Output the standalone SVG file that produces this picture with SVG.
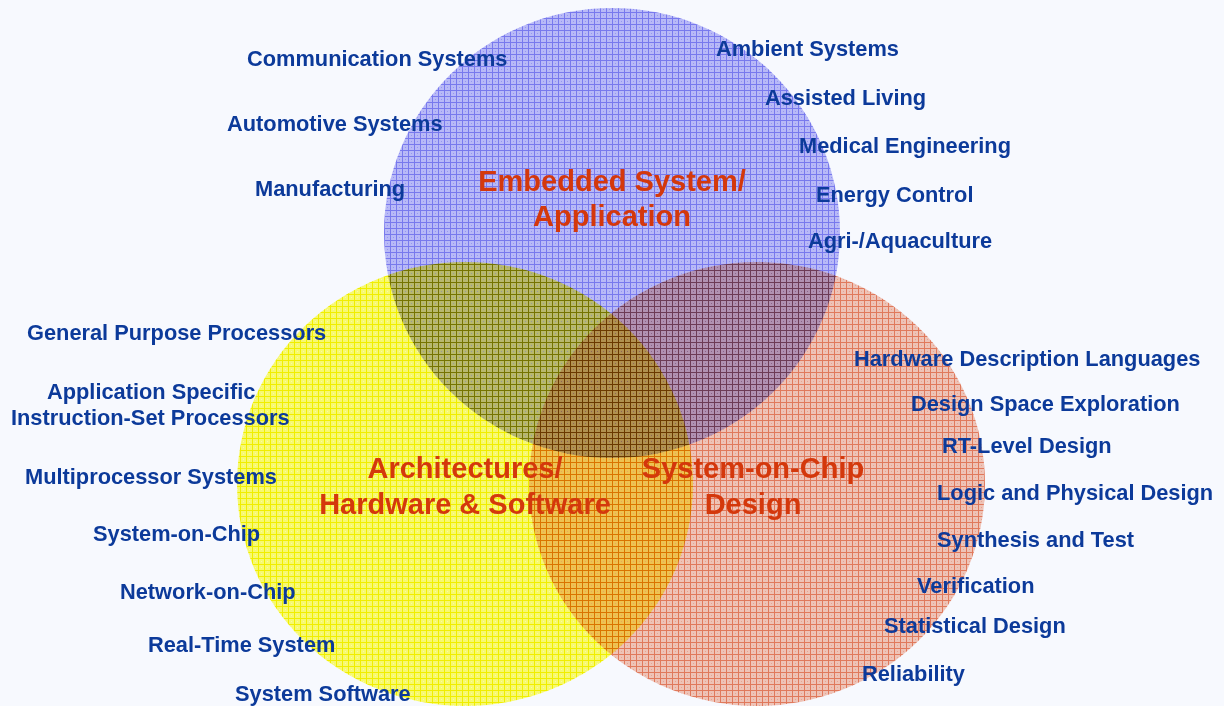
<svg xmlns="http://www.w3.org/2000/svg" width="1224" height="706" viewBox="0 0 1224 706">
<defs>
<pattern id="pBlue" width="6" height="6" patternUnits="userSpaceOnUse">
<rect width="6" height="6" fill="#bebef8"/>
<rect width="6" height="1" fill="#7c7cee"/>
<rect width="1" height="6" fill="#7c7cee"/>
<rect x="3" y="3" width="1" height="1" fill="#9a9af2"/>
</pattern>
<pattern id="pYellow" width="6" height="6" patternUnits="userSpaceOnUse">
<rect width="6" height="6" fill="#ffff70"/>
<rect width="6" height="1" fill="#f8f400"/>
<rect width="1" height="6" fill="#f8f400"/>
<rect x="3" y="3" width="1" height="1" fill="#ffffa8"/>
</pattern>
<pattern id="pRed" width="6" height="6" patternUnits="userSpaceOnUse">
<rect width="6" height="6" fill="#f6c8b8"/>
<rect width="6" height="1" fill="#e87c5c"/>
<rect width="1" height="6" fill="#e87c5c"/>
<rect x="3" y="3" width="1" height="1" fill="#eea892"/>
</pattern>
</defs>
<style>
.set{mix-blend-mode:multiply}
.lbl{font-family:"Liberation Sans",Arial,sans-serif;font-weight:bold;font-size:21.8px;fill:#0c3a9a}
.ttl{font-family:"Liberation Sans",Arial,sans-serif;font-weight:bold;font-size:29px;fill:#d4380c;text-anchor:middle}
</style>
<rect width="1224" height="706" fill="#f7f9fe"/>
<g id="circles">
<ellipse id="set-embedded" class="set" cx="612" cy="233" rx="228" ry="225" fill="url(#pBlue)"/>
<ellipse id="set-architectures" class="set" cx="465" cy="484" rx="228" ry="222" fill="url(#pYellow)"/>
<ellipse id="set-soc" class="set" cx="757" cy="484" rx="228" ry="222" fill="url(#pRed)"/>
</g>
<g id="titles">
<text class="ttl" x="612" y="191">Embedded System/</text>
<text class="ttl" x="612" y="226">Application</text>
<text class="ttl" x="465" y="478">Architectures/</text>
<text class="ttl" x="465" y="514">Hardware &amp; Software</text>
<text class="ttl" x="753" y="478">System-on-Chip</text>
<text class="ttl" x="753" y="514">Design</text>
</g>
<g id="embedded-labels">
<text class="lbl" x="247" y="66">Communication Systems</text>
<text class="lbl" x="227" y="131">Automotive Systems</text>
<text class="lbl" x="255" y="196">Manufacturing</text>
<text class="lbl" x="716" y="56">Ambient Systems</text>
<text class="lbl" x="765" y="105">Assisted Living</text>
<text class="lbl" x="799" y="153">Medical Engineering</text>
<text class="lbl" x="816" y="202">Energy Control</text>
<text class="lbl" x="808" y="248">Agri-/Aquaculture</text>
</g>
<g id="architecture-labels">
<text class="lbl" x="27" y="340">General Purpose Processors</text>
<text class="lbl" x="47" y="399">Application Specific</text>
<text class="lbl" x="11" y="425">Instruction-Set Processors</text>
<text class="lbl" x="25" y="484">Multiprocessor Systems</text>
<text class="lbl" x="93" y="541">System-on-Chip</text>
<text class="lbl" x="120" y="599">Network-on-Chip</text>
<text class="lbl" x="148" y="652">Real-Time System</text>
<text class="lbl" x="235" y="701">System Software</text>
</g>
<g id="soc-labels">
<text class="lbl" x="854" y="366">Hardware Description Languages</text>
<text class="lbl" x="911" y="411">Design Space Exploration</text>
<text class="lbl" x="942" y="453">RT-Level Design</text>
<text class="lbl" x="937" y="500">Logic and Physical Design</text>
<text class="lbl" x="937" y="547">Synthesis and Test</text>
<text class="lbl" x="917" y="593">Verification</text>
<text class="lbl" x="884" y="633">Statistical Design</text>
<text class="lbl" x="862" y="681">Reliability</text>
</g>
</svg>
